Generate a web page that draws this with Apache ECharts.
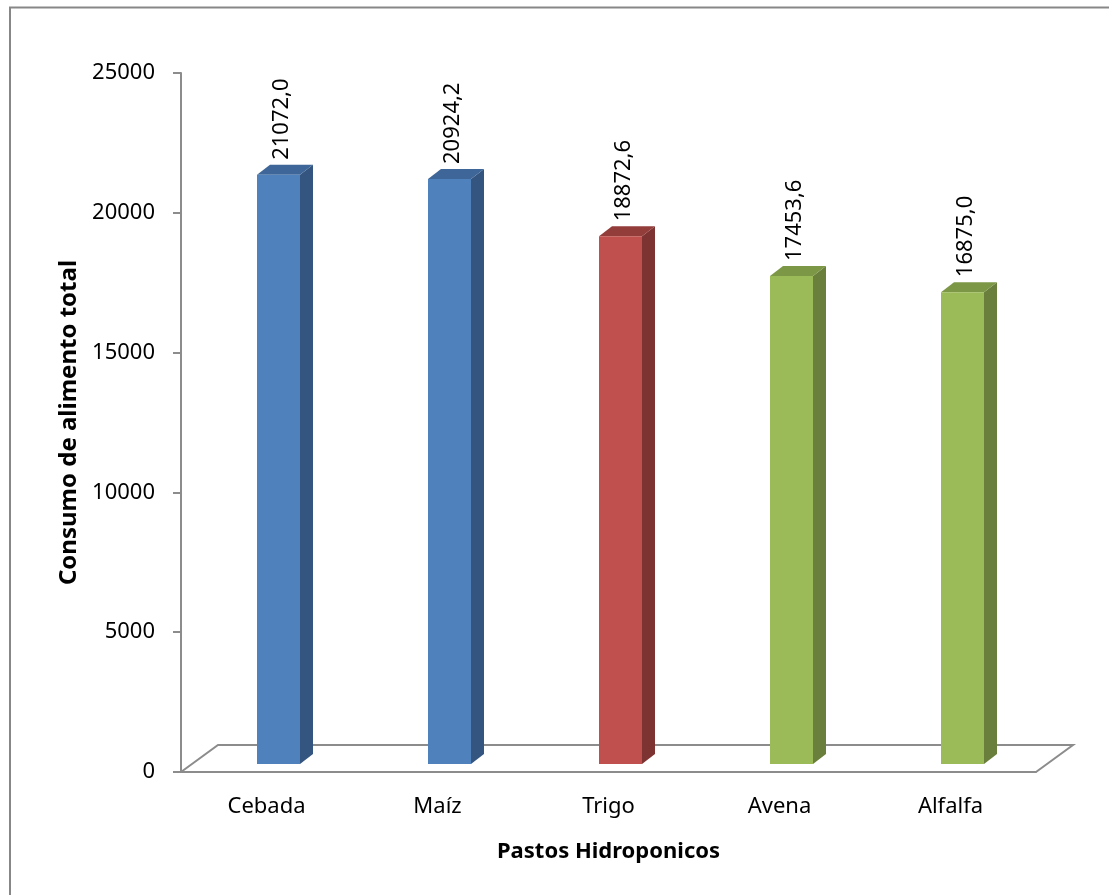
<!DOCTYPE html>
<html>
<head>
<meta charset="utf-8">
<script src="https://cdn.jsdelivr.net/npm/echarts@6/dist/echarts.min.js"></script>
<style>
  html, body { margin: 0; padding: 0; background: #fff; }
  #chart { width: 1109px; height: 895px; }
</style>
</head>
<body>
<div id="chart"></div>
<script>
// Feed consumption per hydroponic forage
const categories = ['Cebada', 'Maíz', 'Trigo', 'Avena', 'Alfalfa'];
const consumo = [21072.0, 20924.2, 18872.6, 17453.6, 16875.0];
const groupOf = [0, 0, 1, 2, 2];          // colour group of each bar
const yMin = 0, yMax = 25000, yStep = 5000;

// Faces of the column: front, top, right side
const palette = [
  { front: '#4F81BD', top: '#3E6698', side: '#34557F' },
  { front: '#C0504D', top: '#933D3B', side: '#7D3331' },
  { front: '#9BBB59', top: '#7C9746', side: '#6A7F3C' }
];

const FONT = '"Noto Sans", "Open Sans", sans-serif';
const LINE = '#8C8C8C';

// Pseudo-3D geometry (pixels)
const FLOOR_DX = 37, FLOOR_DY = -27;   // depth of the floor
const BAR_SHIFT = 12, BAR_LIFT = 8;    // front face sits inside the floor depth
const BAR_W = 43, DEPTH_X = 13, DEPTH_Y = -10;

function fmt(v) {
  return v.toFixed(1).replace('.', ',');
}

function renderFloor(params, api) {
  const cs = params.coordSys;
  const xl = cs.x, xr = cs.x + cs.width, yb = cs.y + cs.height;
  return {
    type: 'polyline',
    shape: {
      points: [
        [xl, yb],
        [xl + FLOOR_DX, yb + FLOOR_DY],
        [xr + FLOOR_DX, yb + FLOOR_DY],
        [xr, yb]
      ]
    },
    style: { stroke: LINE, lineWidth: 2, fill: null },
    silent: true
  };
}

function renderBar(params, api) {
  const i = api.value(0);
  const v = api.value(1);
  const top = api.coord([i, v]);
  const base = api.coord([i, 0]);
  const cx = top[0] + BAR_SHIFT;
  const x0 = cx - BAR_W / 2, x1 = cx + BAR_W / 2;
  const yt = top[1] - BAR_LIFT, yb = base[1] - BAR_LIFT;
  const c = palette[groupOf[i]];
  return {
    type: 'group',
    children: [
      {
        type: 'polygon',
        shape: { points: [[x1, yb], [x1 + DEPTH_X, yb + DEPTH_Y], [x1 + DEPTH_X, yt + DEPTH_Y], [x1, yt]] },
        style: { fill: c.side }
      },
      {
        type: 'polygon',
        shape: { points: [[x0, yt], [x1, yt], [x1 + DEPTH_X, yt + DEPTH_Y], [x0 + DEPTH_X, yt + DEPTH_Y]] },
        style: { fill: c.top }
      },
      {
        type: 'rect',
        shape: { x: x0, y: yt, width: BAR_W, height: yb - yt },
        style: { fill: c.front }
      },
      {
        type: 'text',
        x: cx + 3,
        y: yt + DEPTH_Y - 5,
        rotation: Math.PI / 2,
        style: {
          text: fmt(v),
          align: 'left',
          verticalAlign: 'middle',
          font: '22px ' + FONT,
          fill: '#000'
        }
      }
    ]
  };
}

const chart = echarts.init(document.getElementById('chart'), null, { renderer: 'canvas' });

chart.setOption({
  animation: false,
  backgroundColor: '#fff',
  graphic: [{
    type: 'rect',
    shape: { x: 10, y: 7.5, width: 1200, height: 1000 },
    style: { fill: null, stroke: '#878787', lineWidth: 2 },
    silent: true
  }],
  grid: { left: 181, right: 73, top: 73, bottom: 123, containLabel: false },
  xAxis: {
    type: 'category',
    data: categories,
    name: 'Pastos Hidroponicos',
    nameLocation: 'middle',
    nameGap: 69,
    nameTextStyle: { fontFamily: FONT, fontSize: 22, fontWeight: 'bold', color: '#000' },
    axisLine: { show: true, lineStyle: { color: LINE, width: 2 } },
    axisTick: { show: false },
    axisLabel: { margin: 24, fontFamily: FONT, fontSize: 22, color: '#000' },
    splitLine: { show: false }
  },
  yAxis: {
    type: 'value',
    min: yMin,
    max: yMax,
    interval: yStep,
    name: 'Consumo de alimento total',
    nameLocation: 'middle',
    nameGap: 100,
    nameTextStyle: { fontFamily: FONT, fontSize: 24, fontWeight: 'bold', color: '#000' },
    axisLine: { show: true, lineStyle: { color: LINE, width: 2 } },
    axisTick: { show: true, length: 8, lineStyle: { color: LINE, width: 2 } },
    axisLabel: {
      margin: 26, fontFamily: FONT, fontSize: 22, color: '#000',
      formatter: (val) => String(val)
    },
    splitLine: { show: false }
  },
  series: [
    {
      type: 'custom',
      renderItem: renderFloor,
      data: [[0, 0]],
      z: 1,
      silent: true
    },
    {
      type: 'custom',
      renderItem: renderBar,
      encode: { x: 0, y: 1 },
      data: consumo.map((v, i) => [i, v]),
      z: 2,
      silent: true
    }
  ]
});
</script>
</body>
</html>
